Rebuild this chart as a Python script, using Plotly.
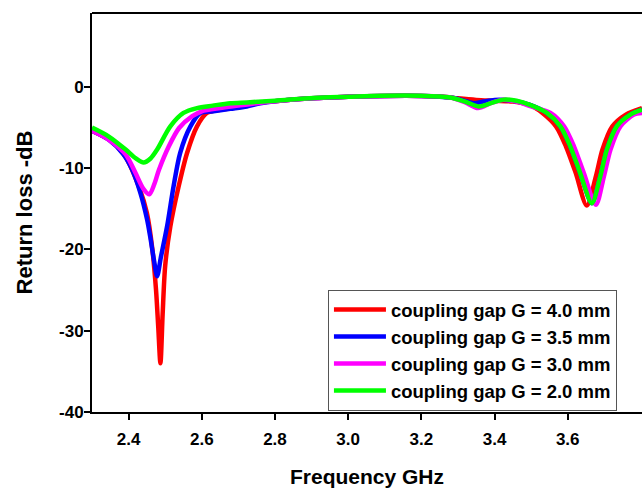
import plotly.graph_objects as go

# ---- data ----
series_names = [
    "coupling gap G = 4.0 mm",
    "coupling gap G = 3.5 mm",
    "coupling gap G = 3.0 mm",
    "coupling gap G = 2.0 mm",
]
series_colors = ["#FF0000", "#0000FF", "#FF00FF", "#00FF00"]

freq_red = [2.30, 2.35, 2.39, 2.43, 2.45, 2.465, 2.475, 2.481, 2.487, 2.493, 2.50, 2.514,
            2.537, 2.56, 2.587, 2.614, 2.65, 2.70, 2.75, 2.80, 2.90, 3.00, 3.10, 3.20,
            3.26, 3.30, 3.35, 3.40, 3.45, 3.50, 3.531, 3.568, 3.595, 3.622, 3.652,
            3.677, 3.695, 3.722, 3.759, 3.803]
rl_red = [-5.4, -6.6, -8.5, -12.5, -15.5, -20.0, -25.0, -29.5, -34.0, -28.0, -22.0, -17.2,
          -12.2, -8.1, -4.85, -3.2, -2.8, -2.5, -2.0, -1.75, -1.4, -1.2, -1.1, -1.1,
          -1.2, -1.4, -1.6, -1.7, -1.8, -2.3, -3.2, -4.85, -7.3, -10.6, -14.6,
          -11.0, -7.7, -4.85, -3.4, -2.6]

freq_blue = [2.30, 2.346, 2.386, 2.41, 2.432, 2.45, 2.459, 2.47, 2.478, 2.488, 2.505, 2.523,
             2.541, 2.569, 2.596, 2.632, 2.678, 2.723, 2.76, 2.80, 2.90, 3.00, 3.10, 3.20,
             3.28, 3.315, 3.343, 3.37, 3.40, 3.45, 3.497, 3.543, 3.580, 3.607, 3.634,
             3.666, 3.689, 3.707, 3.734, 3.771, 3.803]
rl_blue = [-5.4, -6.5, -8.3, -10.2, -13.0, -16.2, -18.4, -21.5, -23.3, -21.0, -17.2, -12.2,
           -8.1, -4.85, -3.2, -3.0, -2.7, -2.4, -2.0, -1.75, -1.4, -1.2, -1.1, -1.1,
           -1.3, -1.65, -2.0, -1.8, -1.6, -1.7, -2.2, -3.2, -4.85, -7.3, -10.6,
           -14.3, -11.0, -7.7, -4.85, -3.4, -2.8]

freq_mag = [2.30, 2.346, 2.392, 2.419, 2.44, 2.457, 2.47, 2.483, 2.510, 2.538, 2.574, 2.60,
            2.65, 2.70, 2.75, 2.80, 2.90, 3.00, 3.10, 3.20, 3.28, 3.32, 3.355, 3.39,
            3.42, 3.46, 3.50, 3.553, 3.590, 3.617, 3.644, 3.677, 3.699, 3.717, 3.744,
            3.781, 3.803]
rl_mag = [-5.4, -6.5, -8.3, -10.6, -12.5, -13.2, -12.0, -10.2, -7.3, -5.05, -3.6, -3.0,
          -2.6, -2.3, -2.0, -1.75, -1.4, -1.2, -1.1, -1.1, -1.3, -1.9, -2.6, -2.0,
          -1.6, -1.8, -2.4, -3.2, -4.85, -7.3, -10.6, -14.5, -11.0, -7.7, -4.85,
          -3.4, -3.2]

freq_green = [2.30, 2.346, 2.392, 2.42, 2.441, 2.46, 2.478, 2.514, 2.550, 2.587, 2.63, 2.678,
              2.723, 2.80, 2.905, 3.00, 3.088, 3.20, 3.279, 3.32, 3.356, 3.39, 3.425, 3.46,
              3.497, 3.543, 3.580, 3.607, 3.634, 3.666, 3.689, 3.707, 3.734, 3.771, 3.803]
rl_green = [-5.0, -6.1, -7.7, -8.8, -9.3, -8.8, -7.7, -4.85, -3.2, -2.6, -2.3, -2.0,
            -1.9, -1.7, -1.35, -1.2, -1.07, -1.07, -1.3, -1.8, -2.4, -2.0, -1.56, -1.7,
            -2.2, -3.2, -4.85, -7.3, -10.6, -14.3, -11.0, -7.7, -4.85, -3.4, -2.8]

x_ticks = [2.4, 2.6, 2.8, 3.0, 3.2, 3.4, 3.6]
x_tick_labels = ["2.4", "2.6", "2.8", "3.0", "3.2", "3.4", "3.6"]
y_ticks = [0, -10, -20, -30, -40]
y_tick_labels = ["0", "-10", "-20", "-30", "-40"]

xs = [freq_red, freq_blue, freq_mag, freq_green]
ys = [rl_red, rl_blue, rl_mag, rl_green]

FONT = "Liberation Sans, Arial, Helvetica, sans-serif"

fig = go.Figure()
for name, color, x, y in zip(series_names, series_colors, xs, ys):
    fig.add_trace(go.Scatter(
        x=x, y=y, mode="lines", name=name,
        line=dict(color=color, width=4.5, shape="spline", smoothing=0.8),
    ))

fig.update_layout(
    width=642, height=488,
    margin=dict(l=92, r=0, t=13, b=76),
    paper_bgcolor="white", plot_bgcolor="white",
    font=dict(family=FONT, color="black"),
    showlegend=True,
    legend=dict(
        x=0.429, y=0.306, xanchor="left", yanchor="top",
        bgcolor="white", bordercolor="#555555", borderwidth=1,
        font=dict(family=FONT, size=18.5, color="black", weight="bold"),
        itemwidth=52, tracegroupgap=0,
    ),
    xaxis=dict(
        range=[2.30, 3.803], tickvals=x_ticks, ticktext=x_tick_labels,
        ticks="outside", ticklen=6, tickwidth=1.5, tickcolor="black",
        showline=True, linecolor="black", linewidth=2, showgrid=False, zeroline=False,
        tickfont=dict(family=FONT, size=17, weight="bold"), ticklabelstandoff=5,
        title=dict(text="Frequency GHz", font=dict(family=FONT, size=21, weight="bold"), standoff=21),
    ),
    yaxis=dict(
        range=[-40, 9.1], tickvals=y_ticks, ticktext=y_tick_labels,
        ticks="outside", ticklen=6, tickwidth=1.5, tickcolor="black",
        showline=True, linecolor="black", linewidth=2, showgrid=False, zeroline=False,
        tickfont=dict(family=FONT, size=17, weight="bold"), ticklabelstandoff=-3,
        title=dict(text="Return loss -dB", font=dict(family=FONT, size=22, weight="bold"), standoff=20),
    ),
    shapes=[dict(type="line", xref="paper", yref="paper", x0=0, x1=1, y0=1, y1=1,
                 line=dict(color="black", width=2))],
)

fig.write_html(
    "out.html",
    config={"displayModeBar": False},
    post_script="document.body.style.margin='0';document.body.style.overflow='hidden';",
)
